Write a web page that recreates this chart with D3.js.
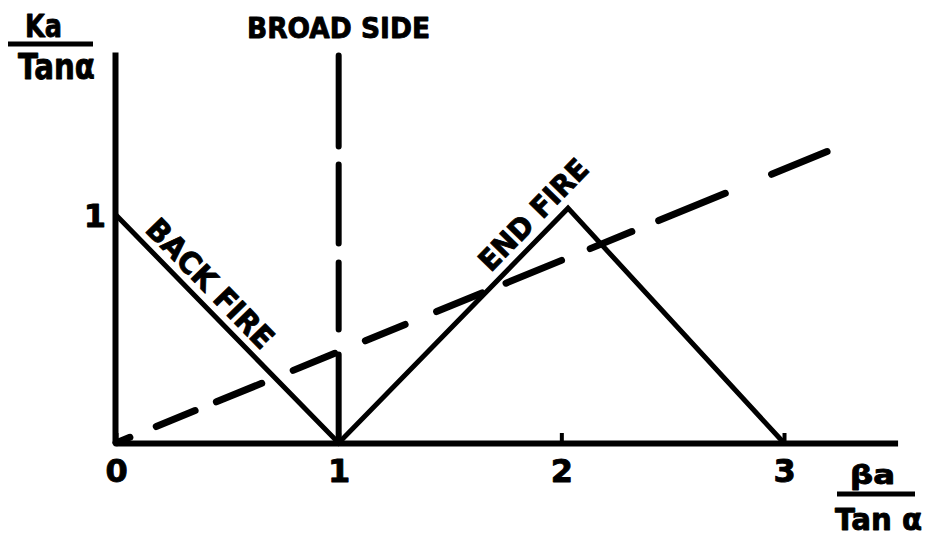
<!DOCTYPE html>
<html>
<head>
<meta charset="utf-8">
<script src="https://cdn.jsdelivr.net/npm/d3@7"></script>
<style>
  html, body { margin: 0; padding: 0; background: #fff; }
  svg { display: block; }
  text { font-family: "DejaVu Sans", "Liberation Sans", sans-serif; font-weight: bold; fill: #000;
         stroke: #000; stroke-width: 0.9px; stroke-linejoin: round; }
</style>
</head>
<body>
<svg id="chart" width="927" height="542"></svg>
<script>
// Axis extents and ticks (in units of βa / tan α and Ka / tan α)
const xExtent = [0, 3.51];
const yExtent = [0, 1.715];
const xTickValues = [0, 1, 2, 3];
const xTickLabels = ["0", "1", "2", "3"];
const yTickValues = [1];
const yTickLabels = ["1"];

// Solid curve: back fire leg, broadside null, end fire leg
const solidX = [0, 1, 2.03, 3];
const solidY = [1, 0, 1.03, 0];

// Dashed straight line through the origin
const dashedX = [0, 3.21];
const dashedY = [0, 1.285];

// Broadside marker (vertical dashed line)
const broadsideX = [1, 1];
const broadsideY = [1.70, 0];

// Labels
const titleBroadside = "BROAD SIDE";
const labelBackFire = "BACK FIRE";
const labelEndFire = "END FIRE";

const svg = d3.select("#chart");

const x = d3.scaleLinear().domain(xExtent).range([116, 116 + 3.51 * 222.67]);
const y = d3.scaleLinear().domain(yExtent).range([443, 443 - 1.715 * 228]);

const line = d3.line().x(d => x(d[0])).y(d => y(d[1]));

// Broadside vertical dashed line
svg.append("path")
  .attr("d", line(d3.zip(broadsideX, broadsideY)))
  .attr("fill", "none").attr("stroke", "#000")
  .attr("stroke-width", 6).attr("stroke-linecap", "round")
  .attr("stroke-dasharray", "91,18,79,19,67,25,120");

// Dashed line from origin
svg.append("path")
  .attr("d", line(d3.zip(dashedX, dashedY)))
  .attr("fill", "none").attr("stroke", "#000")
  .attr("stroke-width", 7).attr("stroke-linecap", "round")
  .attr("stroke-dasharray", "15,28.5,42,23,49,34,45,33,43,34,49,26,60,31,45,29,72,50,60,10");

// Solid curve
svg.append("path")
  .attr("d", line(d3.zip(solidX, solidY)))
  .attr("fill", "none").attr("stroke", "#000")
  .attr("stroke-width", 5).attr("stroke-linejoin", "miter");

// X axis
const xAxis = d3.axisBottom(x)
  .tickValues(xTickValues)
  .tickFormat((d, i) => xTickLabels[i])
  .tickSize(-10).tickSizeOuter(0);
const gx = svg.append("g").attr("transform", `translate(0,${y(0)})`).call(xAxis);
gx.select(".domain").attr("stroke", "#000").attr("stroke-width", 6);
gx.selectAll(".tick line").attr("stroke", "#000").attr("stroke-width", 4);
gx.selectAll(".tick text")
  .attr("y", 39).attr("dy", 0)
  .style("font-size", "32px").style("font-family", "DejaVu Sans")
  .style("font-weight", "bold").attr("fill", "#000");

// Y axis
const yAxis = d3.axisLeft(y)
  .tickValues(yTickValues)
  .tickFormat((d, i) => yTickLabels[i])
  .tickSize(0).tickSizeOuter(0).tickPadding(9);
const gy = svg.append("g").attr("transform", `translate(${x(0) - 1},0)`).call(yAxis);
gy.select(".domain").attr("stroke", "#000").attr("stroke-width", 6);
gy.selectAll(".tick text")
  .attr("dy", "0.36em")
  .style("font-size", "32px").style("font-family", "DejaVu Sans")
  .style("font-weight", "bold").attr("fill", "#000");

// Label placed along a segment of the solid curve, offset to one side
function alongLabel(text, p0, p1, tStart, offset, size, length) {
  const ax = x(p0[0]), ay = y(p0[1]), bx = x(p1[0]), by = y(p1[1]);
  const ang = Math.atan2(by - ay, bx - ax);
  const px = x(tStart), py = ay + (px - ax) * (by - ay) / (bx - ax);
  svg.append("text")
    .attr("transform", `translate(${px},${py}) rotate(${ang * 180 / Math.PI})`)
    .attr("x", 0).attr("y", -offset)
    .attr("textLength", length).attr("lengthAdjust", "spacingAndGlyphs")
    .style("font-size", size + "px")
    .text(text);
}
alongLabel(labelBackFire, [solidX[0], solidY[0]], [solidX[1], solidY[1]], 0.097, 9, 30, 168);
alongLabel(labelEndFire, [solidX[1], solidY[1]], [solidX[2], solidY[2]], 1.715, 10, 29, 143);

// Broadside title
svg.append("text").attr("x", 247).attr("y", 38)
  .attr("textLength", 183).attr("lengthAdjust", "spacingAndGlyphs")
  .style("font-size", "28px").text(titleBroadside);

// Y axis title (fraction)
svg.append("text").attr("x", 25).attr("y", 37)
  .attr("textLength", 37).attr("lengthAdjust", "spacingAndGlyphs")
  .style("font-size", "32px").text("Ka");
svg.append("line").attr("x1", 8).attr("x2", 93).attr("y1", 44).attr("y2", 44)
  .attr("stroke", "#000").attr("stroke-width", 5);
svg.append("text").attr("x", 18).attr("y", 79)
  .attr("textLength", 77).attr("lengthAdjust", "spacingAndGlyphs")
  .style("font-size", "35px").text("Tanα");

// X axis title (fraction)
svg.append("text").attr("x", 850).attr("y", 484)
  .attr("textLength", 45).attr("lengthAdjust", "spacingAndGlyphs")
  .style("font-size", "27px").text("βa");
svg.append("line").attr("x1", 837).attr("x2", 915).attr("y1", 494).attr("y2", 494)
  .attr("stroke", "#000").attr("stroke-width", 5);
svg.append("text").attr("x", 835).attr("y", 530)
  .attr("textLength", 87).attr("lengthAdjust", "spacingAndGlyphs")
  .style("font-size", "30px").text("Tan α");
</script>
</body>
</html>
